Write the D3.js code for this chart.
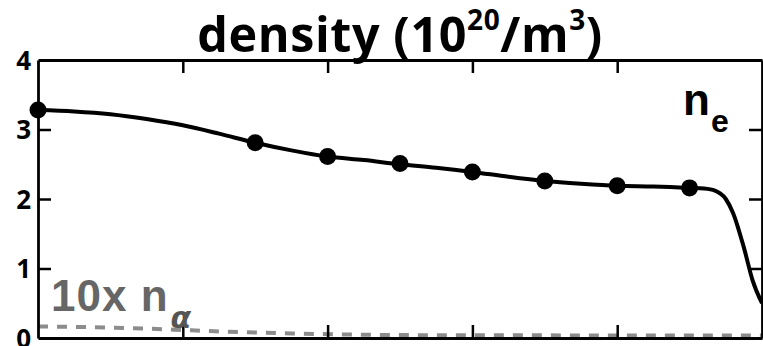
<!DOCTYPE html>
<html>
<head>
<meta charset="utf-8">
<script src="https://cdn.jsdelivr.net/npm/d3@7/dist/d3.min.js"></script>
<style>
  html, body { margin: 0; padding: 0; background: #fff; }
  svg { display: block; }
</style>
</head>
<body>
<script>
// Normalized radius grid and fitted electron density profile (10^20 m^-3)
const profileRho = [0, 0.05, 0.1, 0.15, 0.2, 0.25, 0.3, 0.35, 0.4, 0.45, 0.5, 0.55, 0.6, 0.65, 0.7, 0.75, 0.8, 0.85, 0.9, 0.92, 0.935, 0.95, 0.96, 0.975, 0.987, 1.0];
const profileNe  = [3.28, 3.26, 3.22, 3.15, 3.06, 2.94, 2.81, 2.70, 2.61, 2.56, 2.50, 2.45, 2.39, 2.32, 2.26, 2.22, 2.19, 2.18, 2.16, 2.15, 2.12, 2.00, 1.80, 1.30, 0.83, 0.50];

// Measured points
const pointRho = [0, 0.3, 0.4, 0.5, 0.6, 0.7, 0.8, 0.9];
const pointNe  = [3.28, 2.81, 2.61, 2.51, 2.39, 2.26, 2.19, 2.16];

// Alpha density, scaled by 10
const alphaRho = [0, 0.05, 0.1, 0.15, 0.2, 0.25, 0.3, 0.35, 0.4, 0.45, 0.5, 0.6, 0.7, 0.8, 0.9, 1.0];
const alphaN10 = [0.165, 0.16, 0.15, 0.135, 0.115, 0.095, 0.08, 0.065, 0.055, 0.047, 0.042, 0.04, 0.038, 0.037, 0.036, 0.035];

const yTicks = [0, 1, 2, 3, 4];
const xTicks = [0.2, 0.4, 0.6, 0.8];

const W = 763, H = 346;
const m = { left: 38, top: 60, right: 1, bottom: 8 };

const svg = d3.select("body").append("svg")
  .attr("width", W).attr("height", H);

const x = d3.scaleLinear().domain([0, 1]).range([m.left, W - m.right]);
const y = d3.scaleLinear().domain([0, 4]).range([H - m.bottom, m.top]);

svg.append("defs").append("clipPath").attr("id", "plotClip")
  .append("rect")
  .attr("x", x(0)).attr("y", y(4) - 20)
  .attr("width", x(1) - x(0)).attr("height", y(0) - y(4) + 20);

// Title
const title = svg.append("text")
  .attr("x", (x(0) + x(1)) / 2).attr("y", 52)
  .attr("text-anchor", "middle")
  .style("font-family", "'Open Sans', 'Noto Sans', sans-serif")
  .style("font-weight", 700)
  .style("font-size", "48.5px")
  .style("letter-spacing", "0.6px")
  .attr("fill", "#000");
title.append("tspan").text("density (10");
title.append("tspan").attr("dy", -22).style("font-size", "28px").text("20");
title.append("tspan").attr("dy", 22).text("/m");
title.append("tspan").attr("dy", -22).style("font-size", "28px").text("3");
title.append("tspan").attr("dy", 22).text(")");

const plot = svg.append("g").attr("clip-path", "url(#plotClip)");

// Alpha density (dashed)
const alphaData = alphaRho.map((r, i) => [r, alphaN10[i]]);
plot.append("path")
  .datum(alphaData)
  .attr("fill", "none")
  .attr("stroke", "#8c8c8c")
  .attr("stroke-width", 4)
  .attr("stroke-dasharray", "10,9")
  .attr("d", d3.line().x(d => x(d[0])).y(d => y(d[1])).curve(d3.curveMonotoneX));

// Electron density profile
const neData = profileRho.map((r, i) => [r, profileNe[i]]);
plot.append("path")
  .datum(neData)
  .attr("fill", "none")
  .attr("stroke", "#000")
  .attr("stroke-width", 4)
  .attr("d", d3.line().x(d => x(d[0])).y(d => y(d[1])).curve(d3.curveMonotoneX));

// Measured points
svg.append("g").selectAll("circle")
  .data(pointRho.map((r, i) => [r, pointNe[i]]))
  .join("circle")
  .attr("cx", d => x(d[0])).attr("cy", d => y(d[1]))
  .attr("r", 8.5)
  .attr("fill", "#000");

// Frame with inward ticks on all four sides
const tickLen = 13;
const axisStyle = g => {
  g.select(".domain").attr("stroke-width", 2.8);
  g.selectAll(".tick line").attr("stroke-width", 2.5);
};

svg.append("g")
  .attr("transform", `translate(0,${y(0)})`)
  .call(d3.axisBottom(x).tickValues(xTicks).tickSize(-tickLen).tickSizeOuter(0).tickFormat(""))
  .call(axisStyle);
svg.append("g")
  .attr("transform", `translate(0,${y(4)})`)
  .call(d3.axisTop(x).tickValues(xTicks).tickSize(-tickLen).tickSizeOuter(0).tickFormat(""))
  .call(axisStyle);
svg.append("g")
  .attr("transform", `translate(${x(1)},0)`)
  .call(d3.axisRight(y).tickValues([1, 2, 3]).tickSize(-tickLen).tickSizeOuter(0).tickFormat(""))
  .call(axisStyle);
const yAxis = svg.append("g")
  .attr("transform", `translate(${x(0)},0)`)
  .call(d3.axisLeft(y).tickValues(yTicks).tickSize(-tickLen).tickSizeOuter(0).tickPadding(7).tickFormat(d3.format("d")))
  .call(axisStyle);
yAxis.selectAll(".tick line").filter(d => d === 0 || d === 4).remove();
yAxis.attr("font-size", 26).attr("font-family", "'Open Sans', 'Noto Sans', sans-serif");
yAxis.selectAll(".tick text")
  .style("font-family", "'Open Sans', 'Noto Sans', sans-serif")
  .style("font-weight", 700)
  .style("font-size", "26px")
  .attr("fill", "#000")
  .attr("dy", "0.36em");

// Series labels
const neLabel = svg.append("text")
  .attr("x", 683).attr("y", 115)
  .style("font-family", "'Liberation Sans', Arial, sans-serif")
  .style("font-weight", 700)
  .style("font-size", "44px")
  .attr("fill", "#000");
neLabel.append("tspan").text("n");
neLabel.append("tspan").attr("dx", 1).attr("dy", 17).style("font-size", "32px").text("e");

const aLabel = svg.append("text")
  .attr("x", 51).attr("y", 311)
  .style("font-family", "'Liberation Sans', Arial, sans-serif")
  .style("font-weight", 700)
  .style("font-size", "44px")
  .style("letter-spacing", "1px")
  .attr("fill", "#666");
aLabel.append("tspan").text("10x n");
aLabel.append("tspan").attr("dx", 2).attr("dy", 17)
  .style("font-size", "30px")
  .style("font-style", "italic")
  .style("font-family", "'DejaVu Sans', sans-serif")
  .attr("fill", "#555")
  .text("α");
</script>
</body>
</html>
